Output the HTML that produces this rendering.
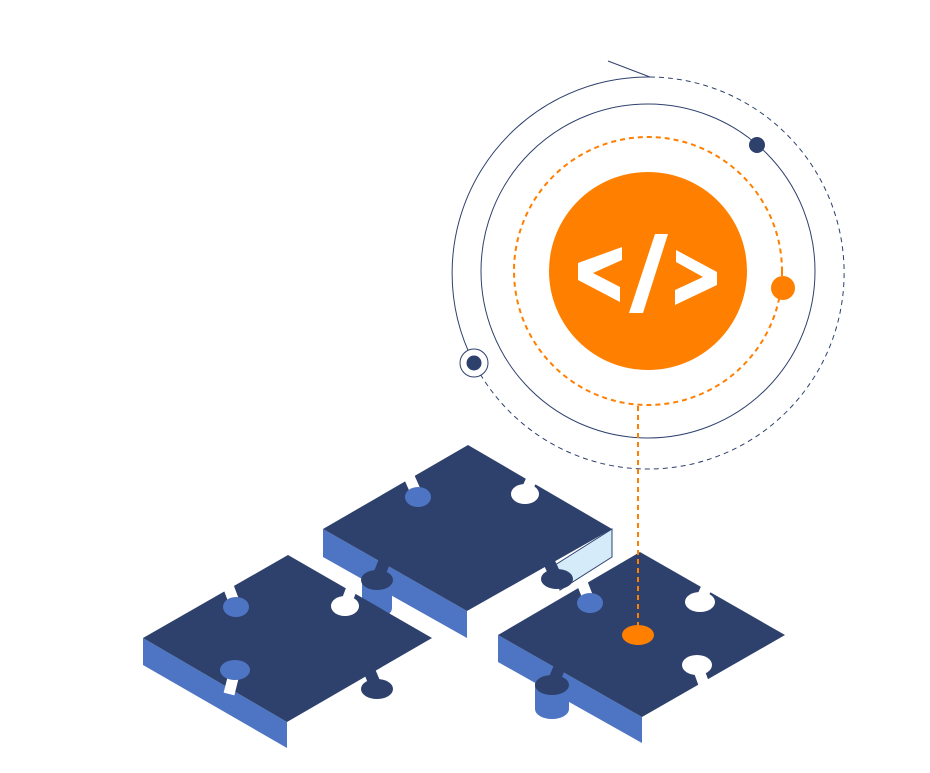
<!DOCTYPE html>
<html><head><meta charset="utf-8"><style>
html,body{margin:0;padding:0;background:#fff;}
svg{display:block;}
</style></head><body>
<svg width="930" height="773" viewBox="0 0 930 773" xmlns="http://www.w3.org/2000/svg">
<!-- orbits -->
<line x1="608" y1="61" x2="650" y2="77" stroke="#2E416D" stroke-width="1"/>
<path d="M650,77 A196,196 0 0 0 474,363" fill="none" stroke="#2E416D" stroke-width="1"/>
<path d="M650,77 A196,196 0 1 1 474,363" fill="none" stroke="#2E416D" stroke-width="1" stroke-dasharray="5,4"/>
<circle cx="648" cy="271" r="167" fill="none" stroke="#2E416D" stroke-width="1"/>
<circle cx="648" cy="271" r="134" fill="none" stroke="#FF7F00" stroke-width="2" stroke-dasharray="5,4"/>
<circle cx="648" cy="271" r="99" fill="#FF7F00"/>
<g fill="#fff">
<polygon points="578,263 622,247 622,260 593,273 620,287 620,302 578,280"/>
<polygon points="655,234 668,234 643,313 629,313"/>
<polygon points="676,250 676,262 703,277 675,290 675,305 717,285 717,272"/>
</g>
<circle cx="757" cy="145" r="8" fill="#2E416D"/>
<circle cx="783" cy="288" r="12" fill="#FF7F00"/>
<circle cx="474" cy="363" r="14" fill="#fff" stroke="#2E416D" stroke-width="1"/>
<circle cx="474" cy="363" r="7.5" fill="#2E416D"/>

<!-- middle piece -->
<g>
<polygon points="323,529 467,611 467,638 323,557" fill="#4E75C3"/>
<polygon points="555,565 612,529 612,557 560,590" fill="#D6EBFA" stroke="#2E416D" stroke-width="1"/>
<rect x="362" y="580" width="30" height="28" fill="#4E75C3"/>
<ellipse cx="377" cy="608" rx="15" ry="10" fill="#4E75C3"/>
<polygon points="468,445 612,529 467,611 323,529" fill="#2E416D"/>
<line x1="377" y1="580" x2="385" y2="560" stroke="#2E416D" stroke-width="12"/>
<ellipse cx="377" cy="580" rx="16" ry="10" fill="#2E416D"/>
<line x1="557" y1="579" x2="549" y2="562" stroke="#2E416D" stroke-width="12"/>
<ellipse cx="557" cy="579" rx="16" ry="10" fill="#2E416D"/>
<line x1="418" y1="497" x2="407" y2="472" stroke="#fff" stroke-width="11"/>
<ellipse cx="418" cy="497" rx="13" ry="10" fill="#4E75C3"/>
<line x1="525" y1="494" x2="534" y2="474" stroke="#fff" stroke-width="11"/>
<ellipse cx="525" cy="494" rx="14" ry="10" fill="#fff"/>
</g>

<!-- left piece -->
<g>
<polygon points="143,638 287,722 287,748 143,665" fill="#4E75C3"/>
<polygon points="288,555 432,638 287,722 143,638" fill="#2E416D"/>
<line x1="236" y1="607" x2="227" y2="583" stroke="#fff" stroke-width="11"/>
<ellipse cx="236" cy="607" rx="13" ry="10" fill="#4E75C3"/>
<line x1="345" y1="606" x2="353" y2="585" stroke="#fff" stroke-width="11"/>
<ellipse cx="345" cy="606" rx="14" ry="10" fill="#fff"/>
<line x1="235" y1="670" x2="229" y2="694" stroke="#fff" stroke-width="11"/>
<ellipse cx="235" cy="670" rx="15" ry="10" fill="#4E75C3"/>
<line x1="377" y1="689" x2="369" y2="670" stroke="#2E416D" stroke-width="12"/>
<ellipse cx="377" cy="689" rx="16" ry="10" fill="#2E416D"/>
</g>

<!-- right piece -->
<g>
<polygon points="498,635 642,717 642,743 498,662" fill="#4E75C3"/>
<rect x="535" y="683" width="34" height="26" fill="#4E75C3"/>
<ellipse cx="552" cy="709" rx="17" ry="10" fill="#4E75C3"/>
<polygon points="640,552 785,635 642,717 498,635" fill="#2E416D"/>
<line x1="552" y1="685" x2="561" y2="664" stroke="#2E416D" stroke-width="12"/>
<ellipse cx="552" cy="685" rx="17" ry="10" fill="#2E416D"/>
<line x1="590" y1="603" x2="581" y2="580" stroke="#fff" stroke-width="11"/>
<ellipse cx="590" cy="603" rx="13" ry="10" fill="#4E75C3"/>
<line x1="700" y1="602" x2="709" y2="582" stroke="#fff" stroke-width="11"/>
<ellipse cx="700" cy="602" rx="15" ry="10" fill="#fff"/>
<line x1="697" y1="665" x2="706" y2="690" stroke="#fff" stroke-width="11"/>
<ellipse cx="697" cy="665" rx="15" ry="10" fill="#fff"/>
</g>

<line x1="638" y1="406" x2="638" y2="626" stroke="#FF7F00" stroke-width="2" stroke-dasharray="5,4"/>
<ellipse cx="638" cy="635" rx="16" ry="10" fill="#FF7F00"/>
</svg>
</body></html>
